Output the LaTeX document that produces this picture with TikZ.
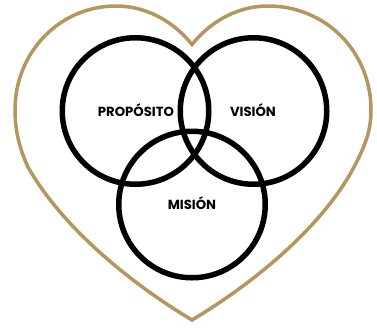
\documentclass[tikz,border=0pt]{standalone}
\usepackage{fontspec}
\setmainfont{Poppins}[BoldFont={Poppins Bold}]
\definecolor{gold}{RGB}{178,151,95}
\tikzset{
  ring/.style={draw=black,line width=5.5pt,circle,minimum size=146.5pt,inner sep=0pt},
  lbl/.style={font=\bfseries\fontsize{13.2pt}{15pt}\selectfont,text=black,inner sep=0pt,anchor=center},
  heartline/.style={draw=gold,line width=3.5pt,line join=miter}
}
\begin{document}
\begin{tikzpicture}[x=1pt,y=-1pt]
\useasboundingbox (0,0) rectangle (377,327);
\fill[white] (0,0) rectangle (377,327);
\draw[heartline] (192,44.5)
  .. controls (211,21) and (238,6) .. (268,6)
  .. controls (326,6) and (371,52) .. (371,110)
  .. controls (371,131) and (365,146) .. (354,167)
  .. controls (325,222) and (262,278) .. (192,320)
  .. controls (122,278) and (59,222) .. (28,167)
  .. controls (20,150) and (15,131) .. (15,110)
  .. controls (15,52) and (60,6) .. (116,6)
  .. controls (146,6) and (173,21) .. (192,44.5) -- cycle;
\node[ring] (prop) at (135.5,111) {};
\node[ring] (vis) at (253.5,111) {};
\node[ring] (mis) at (192,204.5) {};
\node[lbl] (tprop) at (136,110.5) {PROPÓSITO};
\node[lbl] (tvis) at (253,110.5) {VISIÓN};
\node[lbl] (tmis) at (192,203.5) {MISIÓN};
\end{tikzpicture}
\end{document}
